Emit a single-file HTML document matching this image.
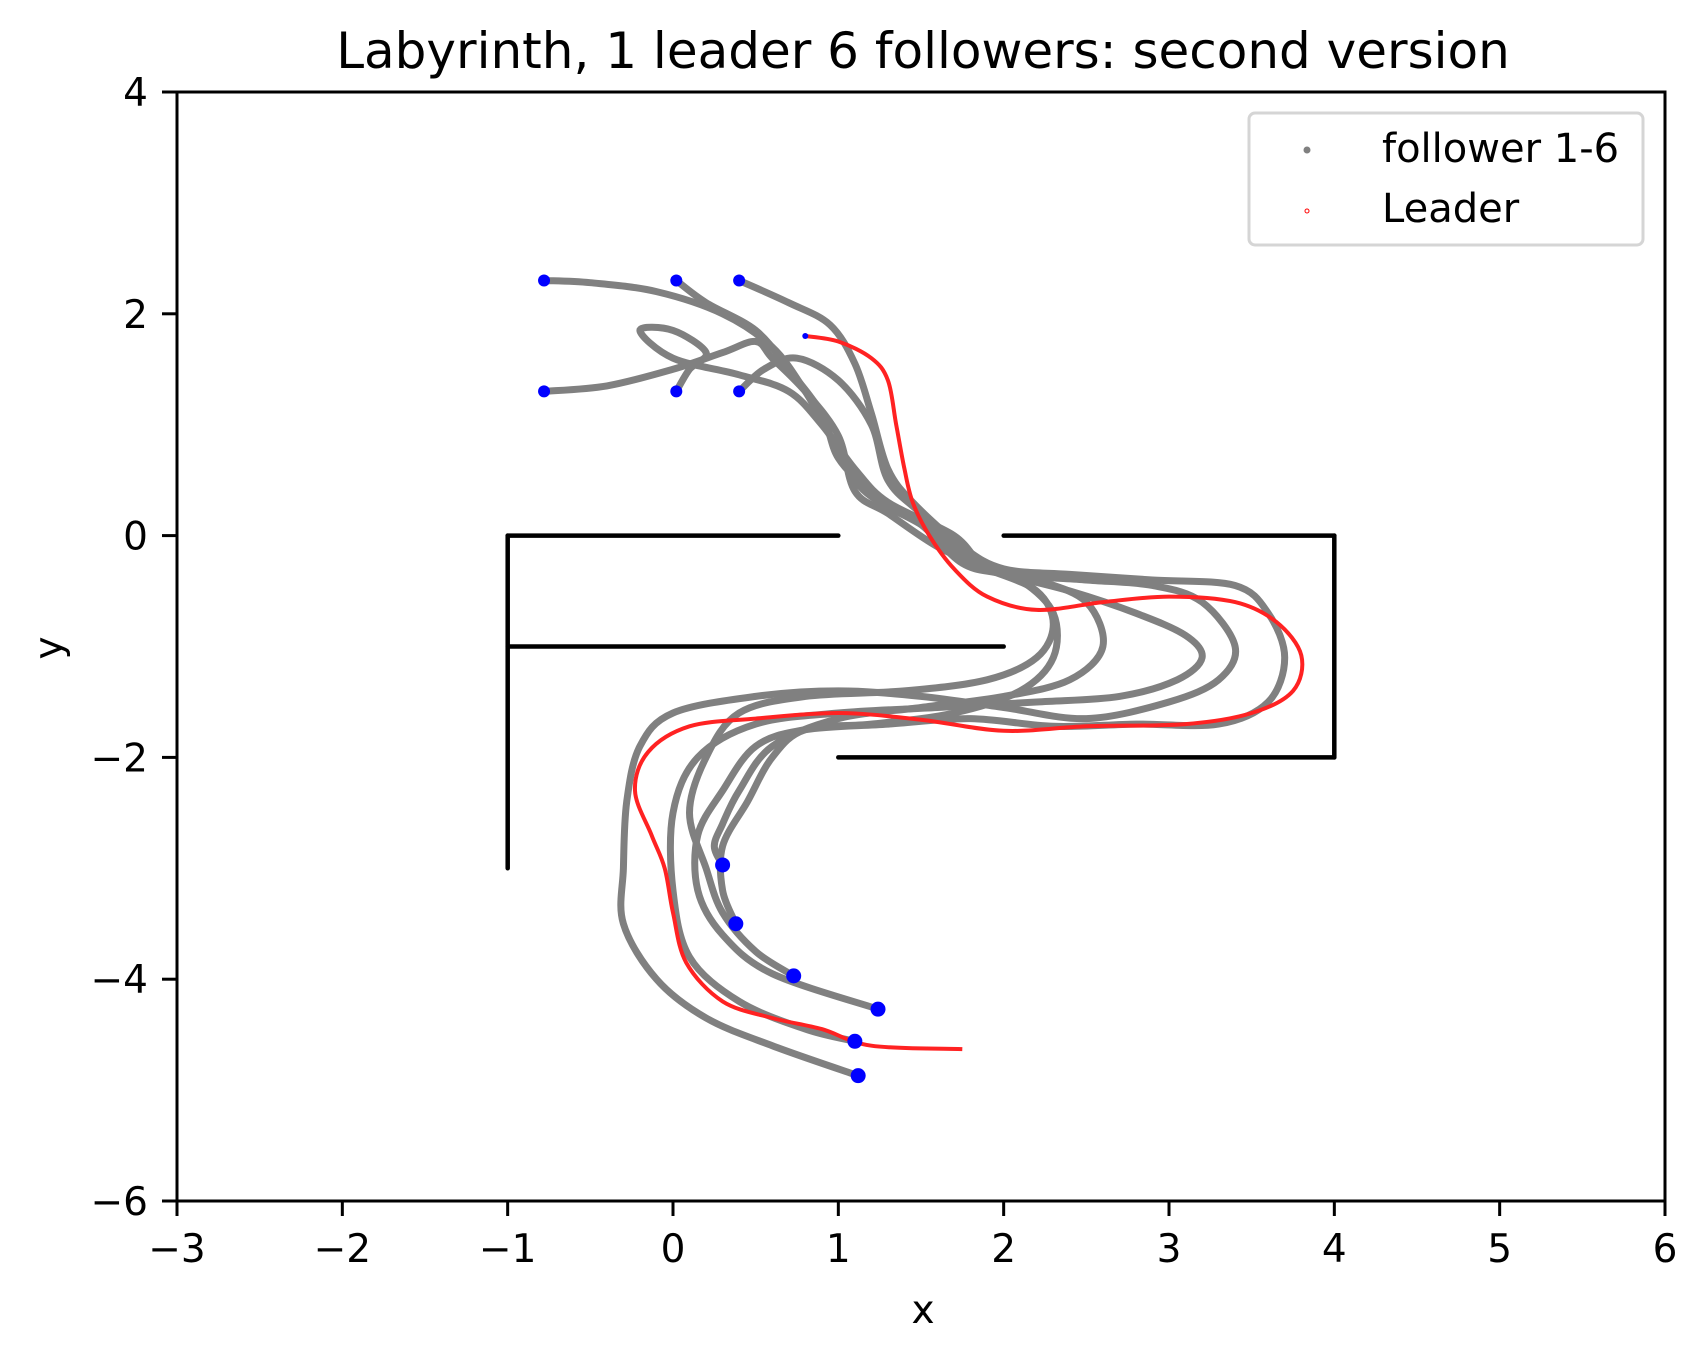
<!DOCTYPE html>
<html><head><meta charset="utf-8">
<style>
body{margin:0;background:#fff;}
svg{display:block;font-family:"DejaVu Sans","Liberation Sans",sans-serif;}
</style></head>
<body>
<svg id="chart" width="1708" height="1357" viewBox="0 0 1708 1357">
<text x="923" y="68" font-size="50" text-anchor="middle">Labyrinth, 1 leader 6 followers: second version</text>
<g id="plot"></g>
<g id="axes"></g>
<text x="923" y="1323" font-size="39" text-anchor="middle">x</text>
<text x="0" y="0" font-size="39" text-anchor="middle" transform="translate(62,648) rotate(-90)">y</text>
<g>
<rect x="1249" y="113" width="394" height="132" rx="6" fill="#fff" stroke="#d5d5d5" stroke-width="3"/>
<circle cx="1307" cy="150" r="3.5" fill="gray"/>
<text x="1382" y="162" font-size="40">follower 1-6</text>
<circle cx="1307" cy="211" r="2" fill="none" stroke="red" stroke-width="1"/>
<text x="1382" y="222" font-size="40">Leader</text>
</g>
</svg>
<script>
const xTicks=[-3,-2,-1,0,1,2,3,4,5,6];
const yTicks=[-6,-4,-2,0,2,4];
const walls=[[[-1,0],[1,0]],[[2,0],[4,0]],[[4,0],[4,-2]],[[1,-2],[4,-2]],[[-1,-1],[2,-1]],[[-1,0],[-1,-3]]];
const leader=[[0.8,1.8],[1.0,1.75],[1.2,1.6],[1.3,1.4],[1.35,1.0],[1.4,0.6],[1.45,0.3],[1.55,0.0],[1.7,-0.3],[1.9,-0.55],[2.2,-0.67],[2.6,-0.6],[3.0,-0.55],[3.4,-0.6],[3.65,-0.78],[3.8,-1.08],[3.75,-1.4],[3.5,-1.6],[3.1,-1.7],[2.5,-1.72],[2.0,-1.76],[1.5,-1.66],[1.0,-1.6],[0.5,-1.65],[0.1,-1.72],[-0.15,-1.95],[-0.23,-2.3],[-0.13,-2.7],[-0.05,-3.0],[0.0,-3.4],[0.08,-3.85],[0.3,-4.2],[0.6,-4.35],[0.9,-4.45],[1.2,-4.6],[1.75,-4.63]];
const follower1=[[-0.78,2.3],[-0.5,2.28],[-0.1,2.2],[0.3,2.0],[0.6,1.7],[0.8,1.3],[0.95,0.9],[1.1,0.5],[1.25,0.3],[1.5,0.1],[1.8,-0.2],[2.1,-0.35],[2.5,-0.4],[2.9,-0.45],[3.2,-0.6],[3.4,-1.0],[3.3,-1.3],[3.0,-1.5],[2.5,-1.65],[2.0,-1.55],[1.5,-1.45],[1.0,-1.4],[0.5,-1.45],[0.0,-1.6],[-0.2,-1.9],[-0.28,-2.4],[-0.3,-3.0],[-0.3,-3.5],[-0.1,-4.0],[0.2,-4.35],[0.6,-4.6],[1.12,-4.87]];
const follower2=[[0.02,2.3],[0.2,2.1],[0.5,1.85],[0.7,1.5],[0.9,1.1],[1.0,0.7],[1.2,0.4],[1.5,0.1],[1.75,-0.25],[2.0,-0.35],[2.4,-0.5],[2.8,-0.7],[3.1,-0.9],[3.2,-1.1],[3.05,-1.3],[2.7,-1.45],[2.2,-1.5],[1.6,-1.55],[1.0,-1.6],[0.5,-1.7],[0.15,-2.0],[0.0,-2.5],[0.0,-3.2],[0.1,-3.8],[0.4,-4.2],[0.8,-4.45],[1.1,-4.56]];
const follower3=[[0.4,2.3],[0.7,2.1],[0.95,1.9],[1.1,1.55],[1.2,1.1],[1.3,0.6],[1.45,0.3],[1.75,-0.1],[2.0,-0.3],[2.4,-0.35],[2.9,-0.4],[3.4,-0.45],[3.6,-0.7],[3.7,-1.1],[3.6,-1.5],[3.3,-1.7],[2.8,-1.7],[2.3,-1.72],[1.8,-1.65],[1.3,-1.7],[0.8,-1.75],[0.5,-1.9],[0.3,-2.3],[0.15,-2.7],[0.15,-3.2],[0.3,-3.6],[0.6,-3.95],[1.24,-4.27]];
const follower4=[[-0.78,1.3],[-0.4,1.35],[0.0,1.5],[0.3,1.65],[0.5,1.75],[0.6,1.6],[0.8,1.3],[1.0,0.9],[1.1,0.4],[1.3,0.2],[1.6,-0.1],[1.9,-0.3],[2.2,-0.5],[2.3,-0.8],[2.2,-1.1],[1.9,-1.3],[1.4,-1.4],[0.8,-1.45],[0.4,-1.6],[0.2,-2.0],[0.1,-2.5],[0.2,-3.0],[0.3,-3.4],[0.5,-3.75],[0.73,-3.97]];
const follower5=[[0.02,1.3],[0.1,1.5],[0.2,1.65],[0.0,1.85],[-0.2,1.85],[0.0,1.6],[0.4,1.45],[0.7,1.3],[0.9,1.0],[1.1,0.6],[1.3,0.3],[1.7,0.0],[1.9,-0.3],[2.2,-0.4],[2.5,-0.6],[2.6,-1.0],[2.4,-1.3],[2.0,-1.45],[1.5,-1.55],[1.0,-1.65],[0.6,-1.9],[0.4,-2.3],[0.3,-2.6],[0.25,-2.8],[0.3,-2.97]];
const follower6=[[0.4,1.3],[0.55,1.5],[0.75,1.6],[1.0,1.4],[1.2,1.0],[1.3,0.5],[1.5,0.2],[1.8,-0.2],[2.1,-0.4],[2.3,-0.7],[2.3,-1.1],[2.1,-1.4],[1.7,-1.6],[1.2,-1.7],[0.8,-1.75],[0.6,-2.0],[0.45,-2.4],[0.3,-2.8],[0.3,-3.2],[0.38,-3.5]];
const followers=[follower1,follower2,follower3,follower4,follower5,follower6];

const X0=177,X1=1665,Y0=1201,Y1=92;
const sx=v=>X0+(v+3)/9*(X1-X0);
const sy=v=>Y0-(v+6)/10*(Y0-Y1);
const NS="http://www.w3.org/2000/svg";
const plot=document.getElementById('plot'),axes=document.getElementById('axes');
function mk(tag,attrs,parent){const e=document.createElementNS(NS,tag);for(const k in attrs)e.setAttribute(k,attrs[k]);parent.appendChild(e);return e;}
function pathD(pts){return pts.map((p,i)=>(i?'L':'M')+sx(p[0]).toFixed(1)+' '+sy(p[1]).toFixed(1)).join(' ');}
function smoothD(pts){
  const P=pts.map(p=>[sx(p[0]),sy(p[1])]);
  let d='M'+P[0][0].toFixed(1)+' '+P[0][1].toFixed(1);
  for(let i=0;i<P.length-1;i++){
    const p0=P[Math.max(0,i-1)],p1=P[i],p2=P[i+1],p3=P[Math.min(P.length-1,i+2)];
    const c1=[p1[0]+(p2[0]-p0[0])/6,p1[1]+(p2[1]-p0[1])/6];
    const c2=[p2[0]-(p3[0]-p1[0])/6,p2[1]-(p3[1]-p1[1])/6];
    d+=' C'+c1[0].toFixed(1)+' '+c1[1].toFixed(1)+' '+c2[0].toFixed(1)+' '+c2[1].toFixed(1)+' '+p2[0].toFixed(1)+' '+p2[1].toFixed(1);
  }
  return d;
}

walls.forEach((w,i)=>{
  const e=mk('path',{d:pathD(w),stroke:'#000','stroke-width':4.5,fill:'none','stroke-linecap':'round'},plot);
  
  
});
followers.forEach((f,i)=>{
  const e=mk('path',{d:smoothD(f),stroke:'gray','stroke-width':7,fill:'none','stroke-linejoin':'round','stroke-linecap':'round'},plot);
  
  
});
const lp=mk('path',{d:smoothD(leader),stroke:'#f22','stroke-width':4,fill:'none','stroke-linejoin':'round'},plot);


followers.forEach((f,i)=>{
  const s=mk('circle',{cx:sx(f[0][0]),cy:sy(f[0][1]),r:6,fill:'blue'},plot);
  
  
  const l=f[f.length-1];
  const e=mk('circle',{cx:sx(l[0]),cy:sy(l[1]),r:7.5,fill:'blue'},plot);
  
  
});
const ls=mk('circle',{cx:sx(leader[0][0]),cy:sy(leader[0][1]),r:3,fill:'blue'},plot);



const fr=mk('rect',{x:X0,y:Y1,width:X1-X0,height:Y0-Y1,fill:'none',stroke:'#000','stroke-width':3},axes);


xTicks.forEach(t=>{
  const x=sx(t);
  const tk=mk('line',{x1:x,x2:x,y1:Y0,y2:Y0+15,stroke:'#000','stroke-width':3},axes);
  
  
  const tl=mk('text',{x:x,y:1262,'font-size':39,'text-anchor':'middle'},axes);
  tl.textContent=(t<0?'\u2212'+(-t):String(t));
  
  
});
yTicks.forEach(t=>{
  const y=sy(t);
  const tk=mk('line',{x1:X0-15,x2:X0,y1:y,y2:y,stroke:'#000','stroke-width':3},axes);
  
  
  const tl=mk('text',{x:148,y:y+14,'font-size':39,'text-anchor':'end'},axes);
  tl.textContent=(t<0?'\u2212'+(-t):String(t));
  
  
});
</script>
</body></html>
